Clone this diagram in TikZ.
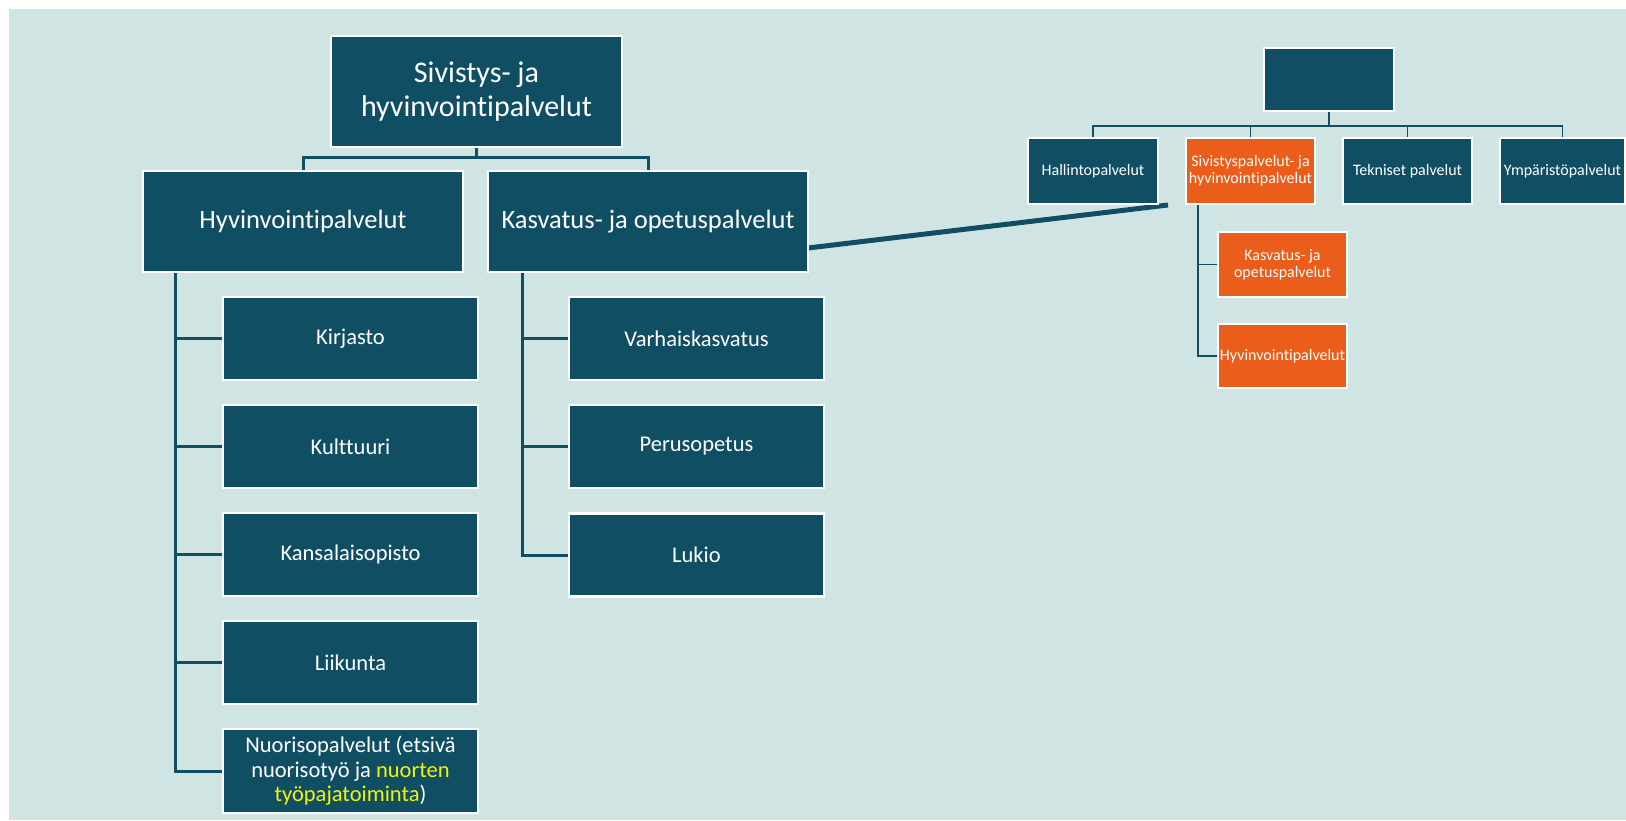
\documentclass[tikz,border=0pt]{standalone}
\usepackage{fontspec}
\setmainfont{Carlito}[Ligatures=NoCommon]
\usetikzlibrary{calc,backgrounds}
\definecolor{darkteal}{HTML}{104F63}
\definecolor{bgcol}{HTML}{D1E4E4}
\definecolor{myorange}{HTML}{EA5D1A}
\definecolor{yel}{HTML}{F2F20A}
\begin{document}
\begin{tikzpicture}[x=1pt,y=-1pt,
  box/.style={draw=white, line width=2.5pt, fill=darkteal, text=white, inner sep=2pt, outer sep=0pt, align=center},
  big/.style={font=\fontsize{30}{34}\selectfont},
  mid/.style={font=\fontsize{26.5}{30}\selectfont},
  small/.style={font=\fontsize{22.5}{24.5}\selectfont},
  sbox/.style={draw=white, line width=1.5pt, fill=darkteal, text=white, inner sep=1pt, outer sep=0pt, align=center, font=\fontsize{16}{17}\selectfont},
  obox/.style={sbox, fill=myorange},
  conn/.style={draw=darkteal, line width=3pt},
  thinconn/.style={draw=darkteal, line width=1.8pt},
  thick/.style={draw=darkteal, line width=5pt}]
\useasboundingbox (0,0) rectangle (1626,820);
\begin{scope}[on background layer]
\fill[white] (0,0) rectangle (1626,820);
\fill[bgcol] (9,9) rectangle (1626,820);
\end{scope}
% left chart
\node[box, big, minimum width=291pt, minimum height=111pt] (top) at (476.5,91.5) {Sivistys- ja\\hyvinvointipalvelut};
\node[box, mid, minimum width=320pt, minimum height=101pt] (hyv) at (303,221.5) {Hyvinvointipalvelut};
\node[box, mid, minimum width=320pt, minimum height=101pt] (kas) at (648,221.5) {Kasvatus- ja opetuspalvelut};
\node[box, small, minimum width=255pt, minimum height=83pt] (kir) at (350.5,338.5) {Kirjasto};
\node[box, small, minimum width=255pt, minimum height=83pt] (kul) at (350.5,446.5) {Kulttuuri};
\node[box, small, minimum width=255pt, minimum height=83pt] (kan) at (350.5,554.5) {Kansalaisopisto};
\node[box, small, minimum width=255pt, minimum height=83pt] (lii) at (350.5,662.5) {Liikunta};
\node[box, small, minimum width=255pt, minimum height=84pt] (nuo) at (350.5,771) {Nuorisopalvelut (etsivä\\nuorisotyö ja \textcolor{yel}{nuorten}\\\textcolor{yel}{työpajatoiminta})};
\node[box, small, minimum width=255pt, minimum height=83pt] (var) at (696.5,338.5) {Varhaiskasvatus};
\node[box, small, minimum width=255pt, minimum height=83pt] (per) at (696.5,446.5) {Perusopetus};
\node[box, small, minimum width=255pt, minimum height=83pt] (luk) at (696.5,555) {Lukio};
% right chart
\node[sbox, minimum width=130pt, minimum height=63pt] (rtop) at (1329,79.5) {};
\node[sbox, minimum width=130pt, minimum height=66pt] (hal) at (1093,171) {Hallintopalvelut};
\node[obox, minimum width=129pt, minimum height=66pt] (siv) at (1250.5,171) {Sivistyspalvelut- ja\\hyvinvointipalvelut};
\node[sbox, minimum width=129pt, minimum height=66pt] (tek) at (1407.5,171) {Tekniset palvelut};
\node[sbox, minimum width=125pt, minimum height=66pt] (ymp) at (1562.5,171) {Ympäristöpalvelut};
\node[obox, minimum width=129pt, minimum height=65pt] (okas) at (1282.5,264.5) {Kasvatus- ja\\opetuspalvelut};
\node[obox, minimum width=129pt, minimum height=64pt] (ohyv) at (1282.5,356) {Hyvinvointipalvelut};
\coordinate (j1) at (476.5,157);
\coordinate (j2) at (1329,126);
\coordinate (lbus) at ($(hyv.south west)+(32,0)$);
\coordinate (rbus) at ($(kas.south west)+(34,0)$);
\coordinate (obus) at ($(siv.south west)+(12,0)$);
\coordinate (lineend) at (1168,205);
\begin{scope}[on background layer]
\draw[conn] (top.south) -- (j1);
\draw[conn] (j1) -| (hyv.north);
\draw[conn] (j1) -| (kas.north);
\draw[conn] (lbus) |- (nuo.west);
\foreach \n in {kir,kul,kan,lii} \draw[conn] (\n.west) -- (\n.west -| lbus);
\draw[conn] (rbus) |- (luk.west);
\foreach \n in {var,per} \draw[conn] (\n.west) -- (\n.west -| rbus);
\draw[thinconn] (rtop.south) -- (j2);
\foreach \n in {hal,siv,tek,ymp} \draw[thinconn] (j2) -| (\n.north);
\draw[thinconn] (obus) |- (ohyv.west);
\draw[thinconn] (okas.west) -- (okas.west -| obus);
\draw[thick] ($(kas.east)+(0,26.5)$) -- (lineend);
\end{scope}
\end{tikzpicture}
\end{document}
